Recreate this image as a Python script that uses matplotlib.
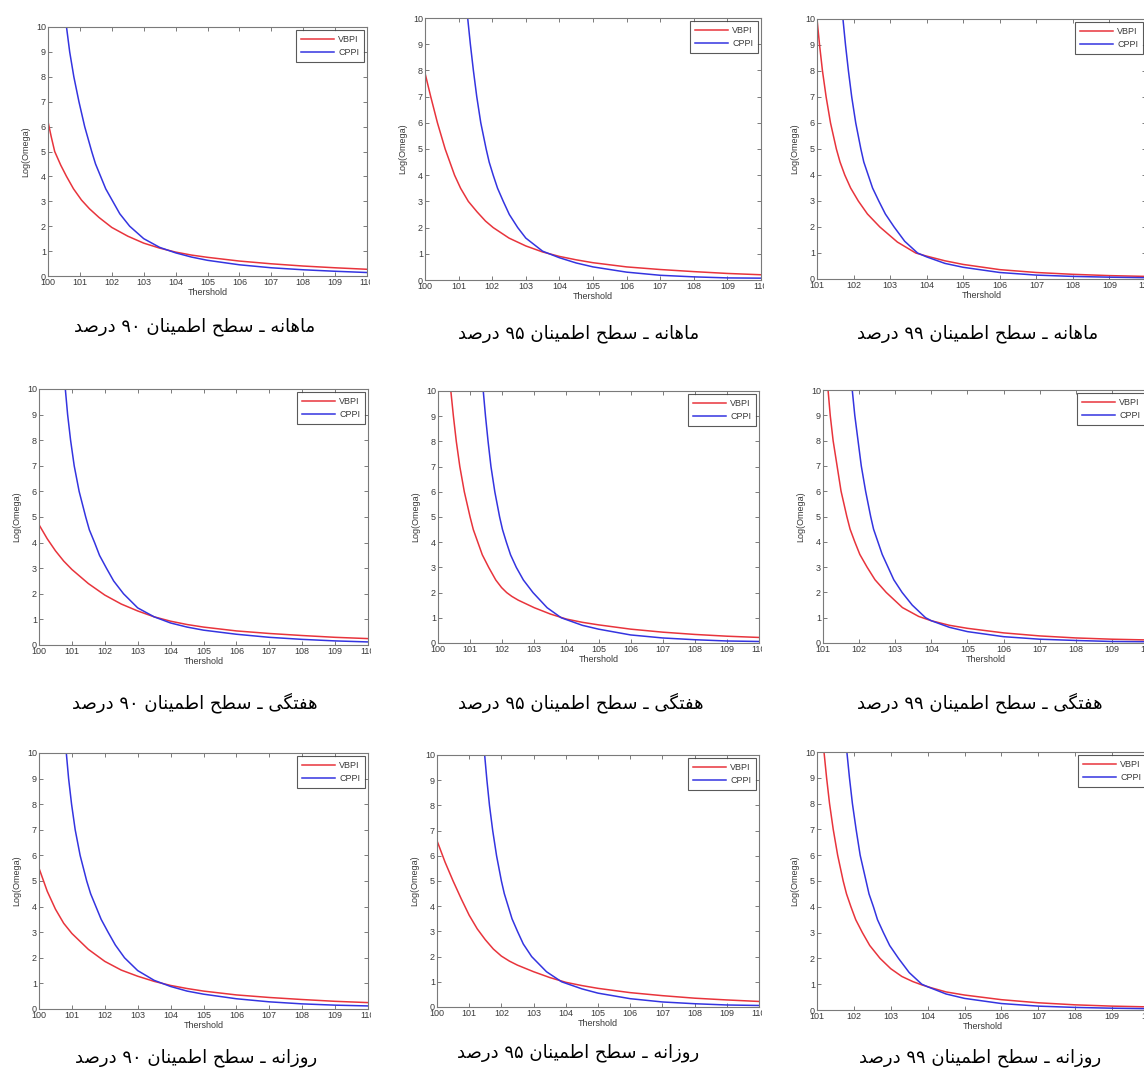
import matplotlib
matplotlib.use('Agg')
import matplotlib.pyplot as plt
from matplotlib.transforms import Bbox, TransformedBbox

# ---------------- data ----------------
series_labels = ["VBPI", "CPPI"]
xlabel_text = "Thershold"
ylabel_text = "Log(Omega)"

# monthly 90%
m90_vbpi_x = [100, 100.1, 100.21, 100.4, 100.58, 100.8, 101.05, 101.3, 101.6, 102, 102.5, 103, 103.5, 104, 104.5, 105, 106, 107, 108, 109, 110]
m90_vbpi_y = [6.2, 5.6, 5.0, 4.45, 4.0, 3.5, 3.05, 2.7, 2.35, 1.95, 1.6, 1.32, 1.12, 0.96, 0.84, 0.75, 0.6, 0.49, 0.4, 0.33, 0.27]
m90_cppi_x = [100.58, 100.68, 100.81, 100.97, 101.15, 101.37, 101.49, 101.65, 101.81, 102.03, 102.25, 102.56, 103.0, 103.5, 104, 104.5, 105, 106, 107, 108, 109, 110]
m90_cppi_y = [10, 9, 8, 7, 6, 5, 4.5, 4, 3.5, 3, 2.5, 2, 1.5, 1.15, 0.93, 0.76, 0.63, 0.45, 0.33, 0.25, 0.19, 0.14]
# monthly 95%
m95_vbpi_x = [100, 100.17, 100.37, 100.6, 100.88, 101.06, 101.29, 101.55, 101.8, 102.03, 102.5, 103, 103.5, 104, 104.5, 105, 106, 107, 108, 109, 110]
m95_vbpi_y = [7.9, 7, 6, 5, 4, 3.5, 3, 2.6, 2.25, 2.0, 1.6, 1.3, 1.07, 0.9, 0.77, 0.66, 0.5, 0.4, 0.32, 0.25, 0.2]
m95_cppi_x = [101.27, 101.35, 101.44, 101.54, 101.66, 101.82, 101.91, 102.03, 102.16, 102.33, 102.51, 102.76, 103.0, 103.5, 104, 104.5, 105, 106, 107, 108, 109, 110]
m95_cppi_y = [10, 9, 8, 7, 6, 5, 4.5, 4, 3.5, 3, 2.5, 2, 1.6, 1.1, 0.85, 0.65, 0.5, 0.3, 0.18, 0.12, 0.08, 0.07]
# monthly 99%
m99_vbpi_x = [101.0, 101.07, 101.15, 101.25, 101.37, 101.53, 101.63, 101.76, 101.92, 102.13, 102.38, 102.72, 103.2, 103.7, 104, 104.5, 105, 106, 107, 108, 109, 110]
m99_vbpi_y = [10, 9, 8, 7, 6, 5, 4.5, 4, 3.5, 3, 2.5, 2, 1.42, 1, 0.88, 0.7, 0.56, 0.36, 0.25, 0.18, 0.13, 0.1]
m99_cppi_x = [101.71, 101.78, 101.86, 101.95, 102.06, 102.2, 102.28, 102.4, 102.52, 102.69, 102.87, 103.11, 103.4, 103.75, 104, 104.5, 105, 106, 107, 108, 109, 110]
m99_cppi_y = [10, 9, 8, 7, 6, 5, 4.5, 4, 3.5, 3, 2.5, 2, 1.45, 1, 0.85, 0.6, 0.45, 0.25, 0.15, 0.1, 0.07, 0.05]
# weekly 90%
w90_vbpi_x = [100, 100.25, 100.5, 100.75, 101, 101.5, 102, 102.5, 103, 103.5, 104, 104.5, 105, 106, 107, 108, 109, 110]
w90_vbpi_y = [4.7, 4.15, 3.68, 3.28, 2.95, 2.4, 1.95, 1.6, 1.33, 1.1, 0.93, 0.8, 0.7, 0.55, 0.45, 0.37, 0.3, 0.25]
w90_cppi_x = [100.8, 100.87, 100.96, 101.07, 101.22, 101.42, 101.53, 101.69, 101.84, 102.05, 102.27, 102.57, 103.0, 103.5, 104, 104.5, 105, 106, 107, 108, 109, 110]
w90_cppi_y = [10, 9, 8, 7, 6, 5, 4.5, 4, 3.5, 3, 2.5, 2, 1.45, 1.1, 0.86, 0.7, 0.58, 0.42, 0.3, 0.22, 0.16, 0.12]
# weekly 95%
w95_vbpi_x = [100.4, 100.48, 100.57, 100.68, 100.82, 101.0, 101.1, 101.24, 101.38, 101.58, 101.8, 101.98, 102.14, 102.3, 102.5, 103.0, 103.5, 104, 104.5, 105, 106, 107, 108, 109, 110]
w95_vbpi_y = [10, 9, 8, 7, 6, 5, 4.5, 4, 3.5, 3, 2.5, 2.2, 2.0, 1.85, 1.7, 1.4, 1.15, 0.95, 0.82, 0.72, 0.55, 0.43, 0.34, 0.27, 0.22]
w95_cppi_x = [101.41, 101.48, 101.56, 101.65, 101.77, 101.92, 102.01, 102.13, 102.26, 102.44, 102.66, 102.96, 103.4, 103.84, 104.5, 105, 106, 107, 108, 109, 110]
w95_cppi_y = [10, 9, 8, 7, 6, 5, 4.5, 4, 3.5, 3, 2.5, 2, 1.4, 1, 0.7, 0.55, 0.32, 0.2, 0.13, 0.08, 0.06]
# weekly 99%
w99_vbpi_x = [101.14, 101.2, 101.28, 101.39, 101.5, 101.66, 101.75, 101.88, 102.02, 102.22, 102.44, 102.75, 103.2, 103.65, 104, 104.5, 105, 106, 107, 108, 109, 110]
w99_vbpi_y = [10, 9, 8, 7, 6, 5, 4.5, 4, 3.5, 3, 2.5, 2, 1.4, 1.05, 0.88, 0.7, 0.58, 0.4, 0.28, 0.2, 0.15, 0.12]
w99_cppi_x = [101.81, 101.88, 101.97, 102.06, 102.18, 102.32, 102.4, 102.52, 102.64, 102.8, 102.96, 103.19, 103.47, 103.84, 104, 104.5, 105, 106, 107, 108, 109, 110]
w99_cppi_y = [10, 9, 8, 7, 6, 5, 4.5, 4, 3.5, 3, 2.5, 2, 1.5, 1, 0.88, 0.62, 0.45, 0.25, 0.15, 0.1, 0.06, 0.05]
# daily 90%
d90_vbpi_x = [100, 100.25, 100.5, 100.75, 101, 101.5, 102, 102.5, 103, 103.5, 104, 104.5, 105, 106, 107, 108, 109, 110]
d90_vbpi_y = [5.5, 4.6, 3.9, 3.35, 2.95, 2.33, 1.86, 1.52, 1.28, 1.08, 0.92, 0.8, 0.7, 0.55, 0.45, 0.37, 0.3, 0.25]
d90_cppi_x = [100.83, 100.9, 100.99, 101.1, 101.25, 101.45, 101.57, 101.73, 101.89, 102.1, 102.32, 102.6, 103.0, 103.5, 104, 104.5, 105, 106, 107, 108, 109, 110]
d90_cppi_y = [10, 9, 8, 7, 6, 5, 4.5, 4, 3.5, 3, 2.5, 2, 1.5, 1.12, 0.88, 0.7, 0.58, 0.4, 0.28, 0.2, 0.15, 0.12]
# daily 95%
d95_vbpi_x = [100, 100.25, 100.5, 100.75, 101, 101.25, 101.5, 101.75, 102, 102.25, 102.5, 103, 103.5, 104, 104.5, 105, 106, 107, 108, 109, 110]
d95_vbpi_y = [6.6, 5.75, 5.0, 4.3, 3.64, 3.1, 2.67, 2.3, 2.02, 1.82, 1.66, 1.4, 1.17, 0.98, 0.85, 0.74, 0.57, 0.45, 0.35, 0.28, 0.22]
d95_cppi_x = [101.48, 101.55, 101.63, 101.73, 101.85, 102.0, 102.09, 102.21, 102.33, 102.5, 102.68, 102.94, 103.4, 103.87, 104.5, 105, 106, 107, 108, 109, 110]
d95_cppi_y = [10, 9, 8, 7, 6, 5, 4.5, 4, 3.5, 3, 2.5, 2, 1.4, 1, 0.72, 0.55, 0.33, 0.2, 0.13, 0.08, 0.06]
# daily 99%
d99_vbpi_x = [101.19, 101.26, 101.34, 101.44, 101.56, 101.71, 101.8, 101.92, 102.05, 102.23, 102.43, 102.71, 103.0, 103.3, 103.6, 103.85, 104.1, 104.5, 105, 106, 107, 108, 109, 110]
d99_vbpi_y = [10, 9, 8, 7, 6, 5, 4.5, 4, 3.5, 3, 2.5, 2, 1.6, 1.3, 1.1, 0.97, 0.86, 0.7, 0.58, 0.4, 0.28, 0.2, 0.15, 0.12]
d99_cppi_x = [101.81, 101.88, 101.96, 102.06, 102.17, 102.33, 102.41, 102.53, 102.64, 102.8, 102.97, 103.21, 103.5, 103.84, 104, 104.5, 105, 106, 107, 108, 109, 110]
d99_cppi_y = [10, 9, 8, 7, 6, 5, 4.5, 4, 3.5, 3, 2.5, 2, 1.45, 1, 0.9, 0.62, 0.45, 0.25, 0.15, 0.1, 0.07, 0.05]

captions = [
    "ماهانه ـ سطح اطمینان ۹۰ درصد", "ماهانه ـ سطح اطمینان ۹۵ درصد", "ماهانه ـ سطح اطمینان ۹۹ درصد",
    "هفتگی ـ سطح اطمینان ۹۰ درصد", "هفتگی ـ سطح اطمینان ۹۵ درصد", "هفتگی ـ سطح اطمینان ۹۹ درصد",
    "روزانه ـ سطح اطمینان ۹۰ درصد", "روزانه ـ سطح اطمینان ۹۵ درصد", "روزانه ـ سطح اطمینان ۹۹ درصد",
]
x_starts = [100, 100, 101, 100, 100, 101, 100, 100, 101]
curves = [
    (m90_vbpi_x, m90_vbpi_y, m90_cppi_x, m90_cppi_y),
    (m95_vbpi_x, m95_vbpi_y, m95_cppi_x, m95_cppi_y),
    (m99_vbpi_x, m99_vbpi_y, m99_cppi_x, m99_cppi_y),
    (w90_vbpi_x, w90_vbpi_y, w90_cppi_x, w90_cppi_y),
    (w95_vbpi_x, w95_vbpi_y, w95_cppi_x, w95_cppi_y),
    (w99_vbpi_x, w99_vbpi_y, w99_cppi_x, w99_cppi_y),
    (d90_vbpi_x, d90_vbpi_y, d90_cppi_x, d90_cppi_y),
    (d95_vbpi_x, d95_vbpi_y, d95_cppi_x, d95_cppi_y),
    (d99_vbpi_x, d99_vbpi_y, d99_cppi_x, d99_cppi_y),
]

# ---------------- layout (pixels: left, top, right, bottom) ----------------
W, H = 1144, 1077
axes_px = [
    (48, 27, 367, 276), (425, 18, 761, 280), (817, 19, 1146, 279),
    (39, 389, 368, 645), (438, 391, 759, 643), (823, 390, 1148, 643),
    (39, 753, 368, 1009), (437, 755, 759, 1007), (817, 752, 1149, 1010),
]
caption_px = [
    (195, 327), (579, 334), (978, 334),
    (195, 703), (581, 703), (980, 703),
    (196, 1058), (578, 1053), (980, 1058),
]

# ---------------- simple Persian shaping for matplotlib ----------------
FORMS = {
    '\u0627': ('\uFE8D', '\uFE8E', None, None),
    '\u062A': ('\uFE95', '\uFE96', '\uFE97', '\uFE98'),
    '\u062D': ('\uFEA1', '\uFEA2', '\uFEA3', '\uFEA4'),
    '\u062F': ('\uFEA9', '\uFEAA', None, None),
    '\u0631': ('\uFEAD', '\uFEAE', None, None),
    '\u0632': ('\uFEAF', '\uFEB0', None, None),
    '\u0633': ('\uFEB1', '\uFEB2', '\uFEB3', '\uFEB4'),
    '\u0635': ('\uFEB9', '\uFEBA', '\uFEBB', '\uFEBC'),
    '\u0637': ('\uFEC1', '\uFEC2', '\uFEC3', '\uFEC4'),
    '\u0641': ('\uFED1', '\uFED2', '\uFED3', '\uFED4'),
    '\u0645': ('\uFEE1', '\uFEE2', '\uFEE3', '\uFEE4'),
    '\u0646': ('\uFEE5', '\uFEE6', '\uFEE7', '\uFEE8'),
    '\u0647': ('\uFEE9', '\uFEEA', '\uFEEB', '\uFEEC'),
    '\u0648': ('\uFEED', '\uFEEE', None, None),
    '\u06AF': ('\uFB92', '\uFB93', '\uFB94', '\uFB95'),
    '\u06CC': ('\uFBFC', '\uFBFD', '\uFBFE', '\uFBFF'),
}
TATWEEL = '\u0640'


def joins_forward(c):
    return c == TATWEEL or (c in FORMS and FORMS[c][2] is not None)


def is_joining(c):
    return c == TATWEEL or c in FORMS


def shape(text):
    out = []
    n = len(text)
    for i, c in enumerate(text):
        if c not in FORMS:
            out.append(c)
            continue
        prev = text[i - 1] if i > 0 else ''
        nxt = text[i + 1] if i + 1 < n else ''
        cp = prev != '' and joins_forward(prev)
        cn = FORMS[c][2] is not None and nxt != '' and is_joining(nxt)
        iso, fin, ini, med = FORMS[c]
        if cp and cn:
            out.append(med)
        elif cp:
            out.append(fin)
        elif cn:
            out.append(ini)
        else:
            out.append(iso)
    # visual order: reverse, keeping digit runs left-to-right
    rev = out[::-1]
    res, run = [], []
    for c in rev:
        if '\u06F0' <= c <= '\u06F9' or c.isdigit():
            run.append(c)
        else:
            if run:
                res.extend(run[::-1])
                run = []
            res.append(c)
    if run:
        res.extend(run[::-1])
    return ''.join(res)


# ---------------- drawing ----------------
fig = plt.figure(figsize=(W / 100, H / 100), dpi=100)
fig.patch.set_facecolor('white')

spine_col = '#7a7a7a'
text_col = '#3a3a3a'
red = '#e8343c'
blue = '#3434e0'

for k in range(9):
    l, t, r, b = axes_px[k]
    ax = fig.add_axes([l / W, 1 - b / H, (r - l) / W, (b - t) / H])
    vx, vy, cx, cy = curves[k]
    ax.plot(vx, vy, color=red, lw=1.1, label=series_labels[0])
    ax.plot(cx, cy, color=blue, lw=1.1, label=series_labels[1])
    x0 = x_starts[k]
    ax.set_xlim(x0, 110)
    ax.set_ylim(0, 10)
    ax.set_xticks(list(range(x0, 111)))
    ax.set_yticks(list(range(0, 11)))
    ax.tick_params(direction='in', length=3, width=0.7, color=spine_col,
                   labelsize=6.5, labelcolor=text_col, top=True, right=True, pad=1.5)
    for lab in ax.get_xticklabels() + ax.get_yticklabels():
        lab.set_family('Liberation Sans')
    for s in ax.spines.values():
        s.set_color(spine_col)
        s.set_linewidth(0.8)
    ax.set_xlabel(xlabel_text, fontsize=6.5, color=text_col, family='Liberation Sans', labelpad=1)
    ax.set_ylabel(ylabel_text, fontsize=6.5, color=text_col, family='Liberation Sans', labelpad=4)
    leg = ax.legend(loc='upper right', frameon=True, fancybox=False,
                    borderpad=0.55, handlelength=3.6, handletextpad=0.5, labelspacing=0.5,
                    borderaxespad=0.3, prop={'family': 'Liberation Sans', 'size': 6.5})
    leg.get_frame().set_edgecolor('#303030')
    leg.get_frame().set_linewidth(0.8)
    for txt in leg.get_texts():
        txt.set_color(text_col)
    # the source images are cropped just right of the axes box
    clip = TransformedBbox(Bbox([[0, 0], [(r + 3) / W, 1]]), fig.transFigure)
    for tick in ax.xaxis.get_major_ticks():
        tick.label1.set_clip_box(clip)
        tick.label1.set_clip_on(True)
    # caption
    cxp, cyp = caption_px[k]
    fig.text(cxp / W, 1 - cyp / H, shape(captions[k]), ha='center', va='center',
             fontsize=13, family='DejaVu Sans', color='black')

fig.savefig('out.png', dpi=100, facecolor='white')
